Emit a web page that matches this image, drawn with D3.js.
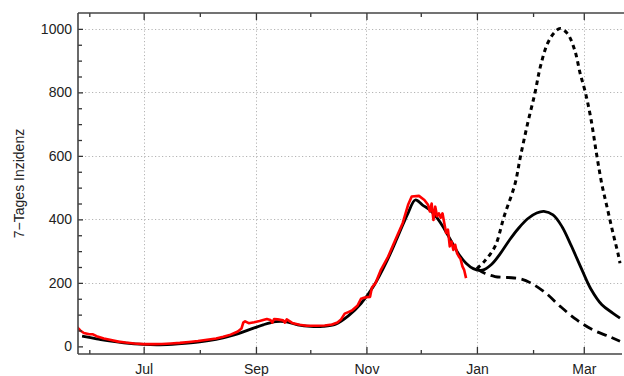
<!DOCTYPE html>
<html><head><meta charset="utf-8">
<script src="https://cdn.jsdelivr.net/npm/d3@7"></script>
<style>
html,body{margin:0;padding:0;background:#fff;}
svg{display:block;font-family:"Liberation Sans",Arial,Helvetica,sans-serif;}
</style></head>
<body>
<svg id="chart" width="624" height="376"></svg>
<script>
// ---- data ----
const observed = [
 ["2020-05-25",62],["2020-05-27",50],["2020-05-29",42],["2020-06-01",38],["2020-06-03",38],
 ["2020-06-05",32],["2020-06-09",25],["2020-06-13",20],["2020-06-17",15],["2020-06-21",12],
 ["2020-06-26",9],["2020-07-01",7],["2020-07-06",7],["2020-07-11",7.5],["2020-07-16",9],
 ["2020-07-21",11],["2020-07-26",14],["2020-07-31",17],["2020-08-05",21],["2020-08-10",25],
 ["2020-08-14",30],["2020-08-18",37],["2020-08-22",47],["2020-08-24",56],["2020-08-25",75],
 ["2020-08-26",79],["2020-08-28",73],["2020-08-31",76],["2020-09-03",80],["2020-09-07",86],
 ["2020-09-09",83],["2020-09-10",75],["2020-09-11",86],["2020-09-13",85],["2020-09-16",82],
 ["2020-09-17",75],["2020-09-18",85],["2020-09-21",74],["2020-09-25",68],["2020-09-29",65],
 ["2020-10-04",65],["2020-10-09",66],["2020-10-13",69],["2020-10-16",75],["2020-10-18",85],
 ["2020-10-20",103],["2020-10-22",108],["2020-10-24",113],["2020-10-27",128],["2020-10-29",150],
 ["2020-10-30",152],["2020-11-01",155],["2020-11-03",156],["2020-11-04",185],["2020-11-06",199],
 ["2020-11-09",241],["2020-11-13",283],["2020-11-17",336],["2020-11-21",388],["2020-11-24",446],
 ["2020-11-26",472],["2020-11-30",474],["2020-12-03",461],["2020-12-05",446],["2020-12-06",425],
 ["2020-12-07",450],["2020-12-08",398],["2020-12-09",440],["2020-12-10",410],["2020-12-11",419],
 ["2020-12-12",405],["2020-12-13",419],["2020-12-14",388],["2020-12-15",357],["2020-12-16",368],
 ["2020-12-17",315],["2020-12-18",330],["2020-12-19",304],["2020-12-20",320],["2020-12-21",294],
 ["2020-12-22",283],["2020-12-23",275],["2020-12-24",252],["2020-12-25",240],["2020-12-26",215]
];
const modelFit = [
 ["2020-05-28",32],["2020-06-05",24],["2020-06-12",17],["2020-06-20",11],["2020-07-01",6],
 ["2020-07-10",5],["2020-07-20",8],["2020-08-01",14],["2020-08-10",22],["2020-08-20",36],
 ["2020-08-28",52],["2020-09-05",68],["2020-09-12",78],["2020-09-17",78],["2020-09-24",68],
 ["2020-10-01",63],["2020-10-08",63],["2020-10-15",70],["2020-10-22",96],["2020-10-29",135],
 ["2020-11-05",190],["2020-11-12",265],["2020-11-19",355],["2020-11-24",420],["2020-11-28",461],
 ["2020-12-02",445],["2020-12-06",430],["2020-12-10",405],["2020-12-14",370],["2020-12-18",330],
 ["2020-12-22",290],["2020-12-26",262],["2020-12-30",245],["2021-01-04",240],["2021-01-09",258],
 ["2021-01-14",293],["2021-01-19",335],["2021-01-24",372],["2021-01-29",402],["2021-02-03",420],
 ["2021-02-07",425],["2021-02-12",414],["2021-02-17",377],["2021-02-22",318],["2021-02-28",241],
 ["2021-03-05",180],["2021-03-11",131],["2021-03-17",105],["2021-03-21",89]
];
const scenarioHigh = [
 ["2021-01-01",245],["2021-01-05",267],["2021-01-11",315],["2021-01-16",409],["2021-01-22",511],
 ["2021-01-25",597],["2021-01-29",702],["2021-02-02",797],["2021-02-05",880],["2021-02-09",954],
 ["2021-02-13",990],["2021-02-16",1001],["2021-02-20",985],["2021-02-24",933],["2021-02-27",860],
 ["2021-03-02",797],["2021-03-05",715],["2021-03-08",608],["2021-03-11",510],["2021-03-14",435],
 ["2021-03-17",360],["2021-03-20",290],["2021-03-21",262]
];
const scenarioLow = [
 ["2021-01-01",245],["2021-01-05",231],["2021-01-11",220],["2021-01-18",217],["2021-01-25",213],
 ["2021-01-31",199],["2021-02-08",168],["2021-02-16",126],["2021-02-25",84],["2021-03-06",52],
 ["2021-03-15",31],["2021-03-21",16]
];
const xMajorTicks = ["2020-07-01","2020-09-01","2020-11-01","2021-01-01","2021-03-01"];
const xTickLabels = ["Jul","Sep","Nov","Jan","Mar"];
const xMinorTicks = ["2020-06-01","2020-08-01","2020-10-01","2020-12-01","2021-02-01"];
const yMajorTicks = [0,200,400,600,800,1000];
const yMinorTicks = [50,100,150,250,300,350,450,500,550,650,700,750,850,900,950];
const yLabel = "7\u2212Tages Inzidenz";

// ---- layout ----
const L = 78, R = 624, T = 13, B = 354;
const parse = d3.utcParse("%Y-%m-%d");
const svg = d3.select("#chart");

const x = d3.scaleUtc()
  .domain([new Date(Date.UTC(2020,4,25,18)), new Date(Date.UTC(2021,2,23,5))])
  .range([L, R]);
const y = d3.scaleLinear().domain([-24, 1050]).range([B, T]);

// grid
const grid = svg.append("g").attr("stroke","#b4b4b4").attr("stroke-width",1).attr("stroke-dasharray","1.2,2.3");
grid.selectAll("line.v").data(xMajorTicks).join("line")
  .attr("x1",d=>Math.round(x(parse(d)))+0.5).attr("x2",d=>Math.round(x(parse(d)))+0.5)
  .attr("y1",T).attr("y2",B);
grid.selectAll("line.h").data(yMajorTicks.filter(v=>v>0)).join("line")
  .attr("y1",d=>Math.round(y(d))+0.5).attr("y2",d=>Math.round(y(d))+0.5)
  .attr("x1",L).attr("x2",R);

// lines
svg.append("clipPath").attr("id","clip").append("rect")
  .attr("x",L).attr("y",T).attr("width",R-L).attr("height",B-T);
const plot = svg.append("g").attr("clip-path","url(#clip)");
const smooth = d3.line().x(d=>x(parse(d[0]))).y(d=>y(d[1])).curve(d3.curveCatmullRom.alpha(0.5));
const jag = d3.line().x(d=>x(parse(d[0]))).y(d=>y(d[1])).curve(d3.curveLinear);

plot.append("path").datum(modelFit).attr("d",smooth)
  .attr("fill","none").attr("stroke","#000").attr("stroke-width",2.8);
plot.append("path").datum(observed).attr("d",jag)
  .attr("fill","none").attr("stroke","#ff0000").attr("stroke-width",2.6).attr("stroke-linejoin","round");
plot.append("path").datum(scenarioHigh).attr("d",smooth)
  .attr("fill","none").attr("stroke","#000").attr("stroke-width",3).attr("stroke-dasharray","4.5,4");
plot.append("path").datum(scenarioLow).attr("d",smooth)
  .attr("fill","none").attr("stroke","#000").attr("stroke-width",2.8).attr("stroke-dasharray","10,5.5");

// axes
const tickColor = "#333";
function styleAxis(g){
  g.select(".domain").remove();
  g.selectAll(".tick line").attr("stroke",tickColor).attr("stroke-width",1.3);
  g.selectAll(".tick text").attr("fill","#222").attr("font-size",14)
    .attr("font-family","'Liberation Sans',Arial,Helvetica,sans-serif");
}
svg.append("g").attr("transform",`translate(0,${B})`)
  .call(d3.axisBottom(x).tickValues(xMajorTicks.map(parse)).tickFormat((d,i)=>xTickLabels[i]).tickSize(-7).tickPadding(10))
  .call(styleAxis);
svg.append("g").attr("transform",`translate(0,${B})`)
  .call(d3.axisBottom(x).tickValues(xMinorTicks.map(parse)).tickFormat("").tickSize(-4))
  .call(styleAxis);
svg.append("g").attr("transform",`translate(0,${T})`)
  .call(d3.axisTop(x).tickValues(xMajorTicks.map(parse)).tickFormat("").tickSize(-7))
  .call(styleAxis);
svg.append("g").attr("transform",`translate(0,${T})`)
  .call(d3.axisTop(x).tickValues(xMinorTicks.map(parse)).tickFormat("").tickSize(-4))
  .call(styleAxis);
svg.append("g").attr("transform",`translate(${L},0)`)
  .call(d3.axisLeft(y).tickValues(yMajorTicks).tickFormat(d3.format("d")).tickSize(-5).tickPadding(6))
  .call(styleAxis);
svg.append("g").attr("transform",`translate(${L},0)`)
  .call(d3.axisLeft(y).tickValues(yMinorTicks).tickFormat("").tickSize(-4))
  .call(styleAxis);

// frame
const frame = svg.append("g").attr("stroke","#444").attr("stroke-width",1.6);
frame.append("line").attr("x1",L).attr("x2",L).attr("y1",T).attr("y2",B);
frame.append("line").attr("x1",L).attr("x2",R).attr("y1",T).attr("y2",T);
frame.append("line").attr("x1",L).attr("x2",622).attr("y1",B).attr("y2",B);

// y label
svg.append("text").attr("transform",`translate(24,${(T+B)/2}) rotate(-90)`)
  .attr("text-anchor","middle").attr("font-size",14).attr("fill","#222").text(yLabel);
</script>
</body></html>
